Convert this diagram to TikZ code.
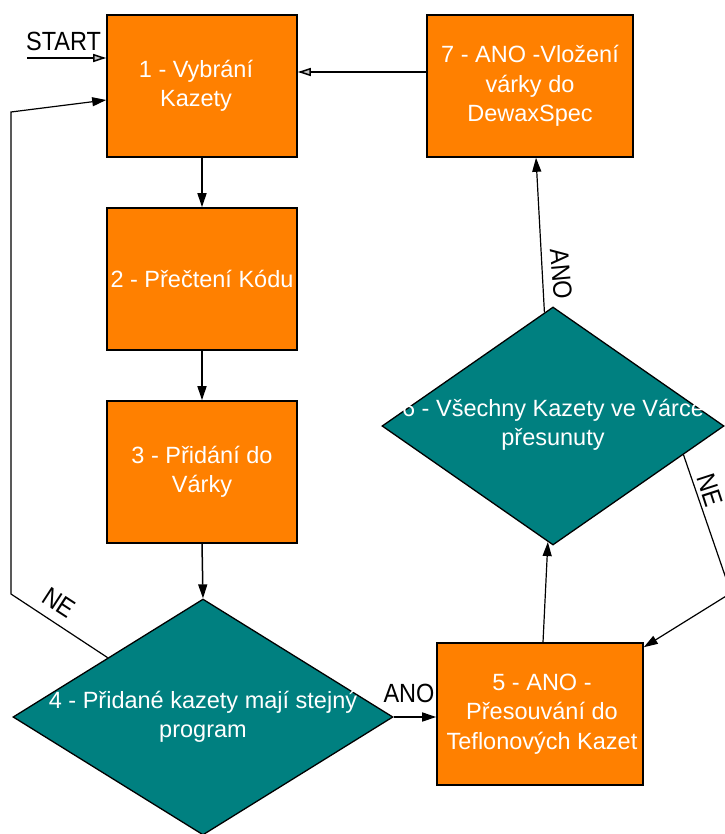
\documentclass[tikz,border=0pt]{standalone}
\usepackage{fontspec}
\usepackage{graphicx}
\setmainfont{Liberation Sans}
\usetikzlibrary{shapes.geometric, arrows.meta, calc}
\definecolor{boxorange}{RGB}{255,128,0}
\definecolor{dteal}{RGB}{0,128,128}
\newcommand{\tallword}[1]{\scalebox{1}[1.12]{#1}}

\begin{document}
\begin{tikzpicture}[x=1pt, y=-1pt,
  box/.style={draw=black, line width=1.6pt, fill=boxorange, inner sep=0pt,
              minimum height=142pt},
  decision/.style={diamond, draw=black, line width=1.3pt, fill=dteal, inner sep=0pt},
  intext/.style={text=white, align=center, inner sep=0pt,
                 font=\fontsize{23.5}{29.5}\selectfont},
  lbl/.style={text=black, inner sep=0pt, font=\fontsize{23.5}{26}\selectfont},
  flow/.style={line width=1.5pt, -{Triangle[length=14pt, width=9pt]}},
  thinflow/.style={line width=1.2pt, -{Triangle[length=14pt, width=9pt]}},
  hollow/.style={line width=1.5pt, -{Triangle[length=13pt, width=8pt, fill=gray!45]}}]

\useasboundingbox (0,0) rectangle (724,834);

% process boxes
\node[box, minimum width=190pt] (b1) at (202,86) {};
\node[box, minimum width=190pt] (b2) at (202,279) {};
\node[box, minimum width=190pt] (b3) at (202,472) {};
\node[box, minimum width=206pt] (b7) at (530,86) {};
\node[box, minimum width=206pt] (b5) at (540,714) {};

% decisions
\node[decision, minimum width=380pt, minimum height=236pt] (d4) at (203,717) {};
\node[decision, minimum width=342pt, minimum height=238pt] (d6) at (553,426) {};

% texts inside shapes
\node[intext] (t1) at ([xshift=-6pt]b1.center) {1 - Vybrání\\Kazety};
\node[intext] (t2) at (b2.center) {2 - Přečtení Kódu};
\node[intext] (t3) at (b3.center) {3 - Přidání do\\Várky};
\node[intext] (t7) at (b7.center) {7 - ANO -Vložení\\várky do\\DewaxSpec};
\node[intext] (t5) at ([xshift=2pt]b5.center) {5 - ANO -\\Přesouvání do\\Teflonových Kazet};
\node[intext] (t4) at (d4.center) {4 - Přidané kazety mají stejný\\program};
\node[intext] (t6) at ([yshift=1pt]d6.center) {6 - Všechny Kazety ve Várce\\přesunuty};

% start
\node[lbl, anchor=base west] (start) at (26,51) {\tallword{START}};
\coordinate (s0) at (27,58);
\draw[hollow] (s0) -- (s0 -| b1.west);

% main chain
\draw[flow] (b1.south) -- (b2.north);
\draw[flow] (b2.south) -- (b3.north);
\draw[flow] (b3.south) -- (d4.north);
\draw[flow] (d4.east) -- (d4.east -| b5.west);
\draw[thinflow] ([xshift=3pt]b5.north) -- ($(d6.south)!0.03!(d6.west)$);
\draw[thinflow] ($(d6.north)!0.05!(d6.west)$) -- ([xshift=6pt]b7.south);
\draw[hollow] ([yshift=14pt]b7.west) -- ([yshift=14pt]b1.east);

% NE loop back to box 1
\coordinate (la) at (11,594);
\coordinate (lb) at (11,112);
\draw[thinflow] ($(d4.north)!0.5!(d4.west)$) -- (la) -- (lb) -- ([yshift=-14pt]b1.west);

% NE loop back to box 5
\coordinate (ra) at (731,593);
\draw[thinflow] ($(d6.east)!0.24!(d6.south)$) -- (ra) -- ($(b5.north east)+(0,5)$);

% branch labels
\node[lbl] (lano4) at (409,693) {\tallword{ANO}};
\node[lbl, rotate=-33] (lne4) at (59,603) {\tallword{NE}};
\node[lbl, rotate=-85] (lano6) at (561,274) {\tallword{ANO}};
\node[lbl, rotate=-72] (lne6) at (710,490) {\tallword{NE}};

\end{tikzpicture}
\end{document}
